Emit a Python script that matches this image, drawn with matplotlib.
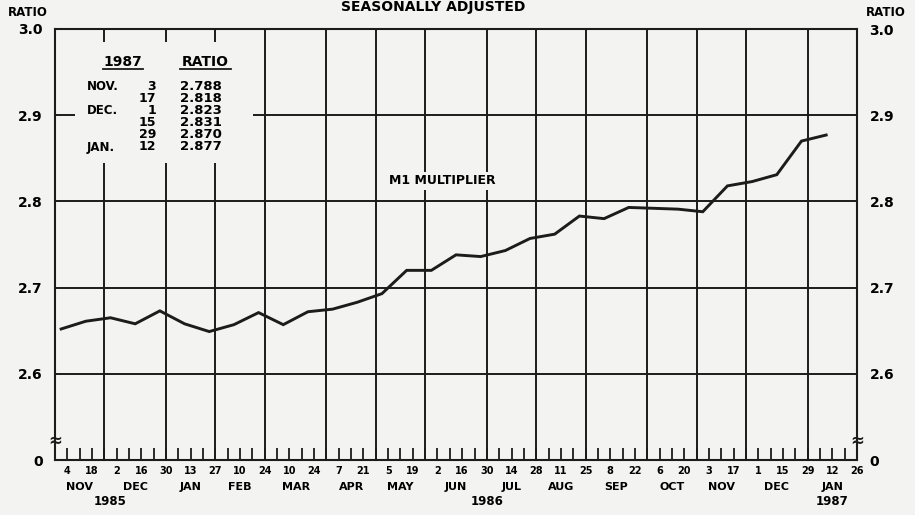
import matplotlib
matplotlib.use("Agg")
import matplotlib.pyplot as plt
import pandas as pd
from matplotlib.patches import Rectangle
from matplotlib.lines import Line2D

plt.rcParams['font.family'] = ['DejaVu Sans']
plt.rcParams['font.weight'] = 'bold'

# ---------------- Data ---------------- #

start_week = pd.Timestamp("1985-10-28")   # left edge of the time axis (Mondays)
n_weeks = 65

day_labels = ['4', '18', '2', '16', '30', '13', '27', '10', '24', '10', '24',
              '7', '21', '5', '19', '2', '16', '30', '14', '28', '11', '25',
              '8', '22', '6', '20', '3', '17', '1', '15', '29', '12', '26']

# biweekly M1 multiplier, plotted half a week before each labelled Monday
m1_ratio = [2.652, 2.661, 2.665, 2.658, 2.673, 2.658, 2.649, 2.657, 2.671,
            2.657, 2.672, 2.675, 2.683, 2.693, 2.720, 2.720, 2.738, 2.736,
            2.743, 2.757, 2.762, 2.783, 2.780, 2.793, 2.792, 2.791, 2.788,
            2.818, 2.823, 2.831, 2.870, 2.877]

year_labels = ['1985', '1986', '1987']
year_weeks = [4.5, 35, 63]

table_months = ['NOV.', '', 'DEC.', '', '', 'JAN.']
table_days = ['3', '17', '1', '15', '29', '12']
table_ratios = ['2.788', '2.818', '2.823', '2.831', '2.870', '2.877']

y_ticks = [2.5, 2.6, 2.7, 2.8, 2.9, 3.0]
y_labels = ['0', '2.6', '2.7', '2.8', '2.9', '3.0']

# ---------------- Plot ---------------- #

paper = '#f3f3f1'
ink = '#1c1c1c'
W, H = 915, 515

def px(x, y):
    return x / W, 1 - y / H

weeks = pd.date_range(start_week, periods=n_weeks + 1, freq='7D')
# month boundary = last Monday of each month
edges = [i for i, d in enumerate(weeks) if (d + pd.Timedelta(days=7)).month != d.month]

fig = plt.figure(figsize=(9.15, 5.15), dpi=100, facecolor=paper)
ax = fig.add_axes([55 / W, 1 - 460 / H, (857 - 55) / W, (460 - 29) / H])
ax.set_facecolor(paper)
ax.set_xlim(0, n_weeks)
ax.set_ylim(2.5, 3.0)

for e in edges[1:-1]:
    ax.axvline(e, color=ink, lw=1.4, zorder=1)
for yv in y_ticks[1:-1]:
    ax.axhline(yv, color=ink, lw=1.4, zorder=1)

# blank area behind the table
ax.add_patch(Rectangle((0.025, 0.689), 0.222, 0.281, transform=ax.transAxes,
                       facecolor=paper, edgecolor='none', zorder=2))

label_weeks = list(range(1, n_weeks + 1, 2))
point_weeks = [w - 0.5 for w in label_weeks[:len(m1_ratio)]]
ax.plot(point_weeks, m1_ratio, color=ink, lw=2.1, zorder=3,
        solid_joinstyle='miter')

for s in ax.spines.values():
    s.set_color(ink)
    s.set_linewidth(1.5)

ax.set_xticks(label_weeks, day_labels)
ax.set_xticks(range(1, n_weeks), minor=True)
ax.tick_params(axis='x', which='both', direction='in', length=8.5, width=1.3,
               color=ink, labelsize=7, pad=4)
ax.set_yticks(y_ticks, y_labels)
ax.tick_params(axis='y', length=0, labelsize=10, pad=9)

ax2 = ax.twinx()
ax2.set_ylim(2.5, 3.0)
ax2.set_yticks(y_ticks, y_labels)
ax2.tick_params(axis='y', length=0, labelsize=10, pad=9)
for s in ax2.spines.values():
    s.set_visible(False)

# month and year labels
for a, b in zip(edges[:-1], edges[1:]):
    ax.text((a + b) / 2, -0.062, weeks[b].strftime('%b').upper(),
            transform=ax.get_xaxis_transform(), ha='center', va='center',
            fontsize=8)
for yl, yw in zip(year_labels, year_weeks):
    ax.text(yw, -0.097, yl, transform=ax.get_xaxis_transform(),
            ha='center', va='center', fontsize=8.5)

# axis breaks
for xb in (0, 1):
    ax.text(xb, 0.044, '≈', transform=ax.transAxes, ha='center', va='center',
            fontsize=12, color=ink, zorder=5)

fig.text(*px(433, 7), 'SEASONALLY ADJUSTED', ha='center', va='center',
         fontsize=10)
fig.text(*px(28, 13), 'RATIO', ha='center', va='center', fontsize=8.5)
fig.text(*px(886, 12), 'RATIO', ha='center', va='center', fontsize=8.5)

fig.text(*px(442, 181), 'M1 MULTIPLIER', fontsize=9,
         ha='center', va='center', zorder=4,
         bbox=dict(facecolor=paper, edgecolor='none', pad=2))

# table
fig.text(*px(123, 62), '1987', ha='center', va='center', fontsize=10)
fig.text(*px(205, 62), 'RATIO', ha='center', va='center', fontsize=10)
fig.add_artist(Line2D([103 / W, 143 / W], [1 - 69 / H] * 2, color=ink, lw=1.3))
fig.add_artist(Line2D([180 / W, 231 / W], [1 - 69 / H] * 2, color=ink, lw=1.3))
for i, (m, d, r) in enumerate(zip(table_months, table_days, table_ratios)):
    yy = 87 + 12 * i
    fig.text(*px(87, yy), m, ha='left', va='center', fontsize=8.5)
    fig.text(*px(156, yy), d, ha='right', va='center', fontsize=9)
    fig.text(*px(180, yy), r, ha='left', va='center', fontsize=9.5)

fig.savefig('out.png', dpi=100, facecolor=paper)
